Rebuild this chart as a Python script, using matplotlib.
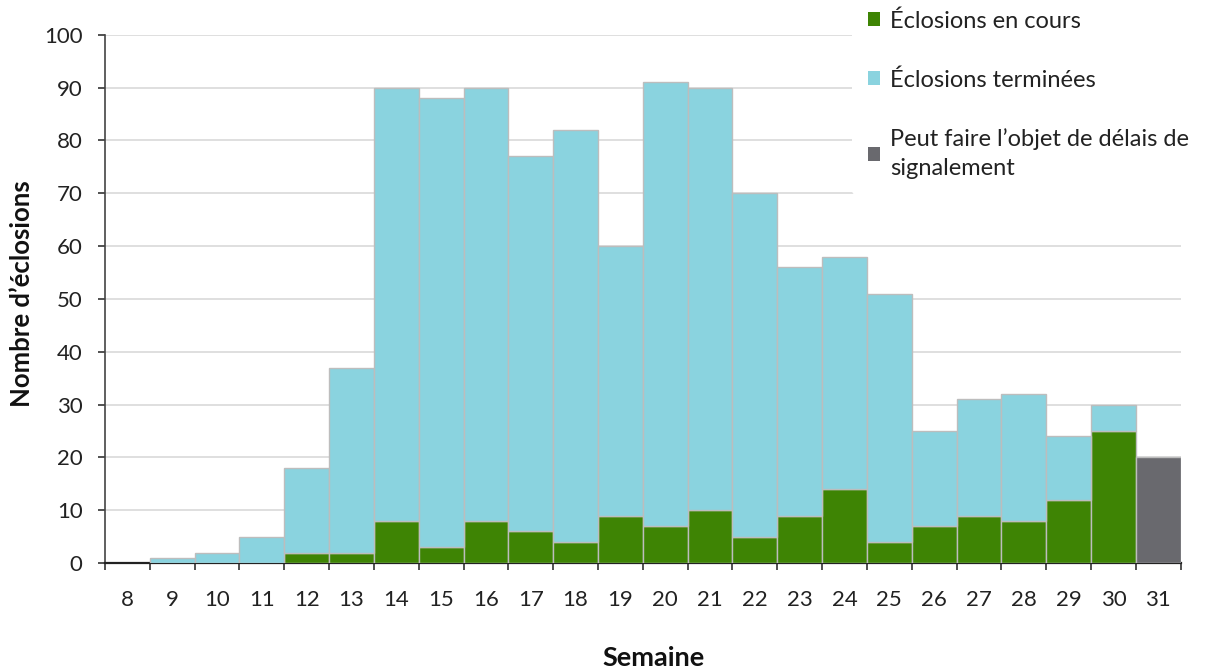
import numpy as np
import matplotlib.pyplot as plt
from matplotlib.patches import Patch

plt.rcParams['font.family'] = ['Lato', 'DejaVu Sans']

# Weekly outbreak counts
weeks = list(range(8, 32))
en_cours = [0, 0, 0, 0, 2, 2, 8, 3, 8, 6, 4, 9, 7, 10, 5, 9, 14, 4, 7, 9, 8, 12, 25, 0]
total = [0, 1, 2, 5, 18, 37, 90, 88, 90, 77, 82, 60, 91, 90, 70, 56, 58, 51, 25, 31, 32, 24, 30, 0]
delais = [0] * 23 + [20]
terminees = [t - c for t, c in zip(total, en_cours)]

green = '#3E8404'
blue = '#8AD3DF'
grey = '#69696E'
edge = '#BDBDBD'

fig, ax = plt.subplots(figsize=(12.06, 6.68), dpi=100)
fig.subplots_adjust(left=0.087, right=0.979, bottom=0.157, top=0.948)

x = np.array(weeks)
c = np.array(en_cours)
t = np.array(terminees)
d = np.array(delais)

# only draw non-empty segments so week 8 stays blank
m = c > 0
ax.bar(x[m], c[m], width=1.0, color=green, edgecolor=edge, linewidth=1, zorder=3)
m = t > 0
ax.bar(x[m], t[m], bottom=c[m], width=1.0, color=blue, edgecolor=edge, linewidth=1, zorder=3)
m = d > 0
ax.bar(x[m], d[m], width=1.0, color=grey, edgecolor=edge, linewidth=1, zorder=3)

ax.set_xlim(7.5, 31.5)
ax.set_ylim(0, 100)
ax.set_yticks(range(0, 101, 10))
ax.yaxis.grid(True, color='#D9D9D9', linewidth=1.2, zorder=0)
ax.set_axisbelow(True)

ax.set_xticks(np.arange(7.5, 32, 1))
ax.set_xticklabels([])
ax.set_xticks(x, minor=True)
ax.set_xticklabels([str(w) for w in weeks], minor=True)
ax.tick_params(axis='x', which='major', length=5, width=1.2, direction='out', color='#333333')
ax.tick_params(axis='x', which='minor', length=0, pad=19, labelsize=16, labelcolor='#222222')
ax.tick_params(axis='y', length=5, width=1.2, color='#333333', pad=11, labelsize=16, labelcolor='#222222')

for s in ['top', 'right']:
    ax.spines[s].set_visible(False)
ax.spines['left'].set_color('#444444')
ax.spines['left'].set_linewidth(1.2)
ax.spines['bottom'].set_color('#222222')
ax.spines['bottom'].set_linewidth(1.6)

fig.text(22 / 1206, 1 - 294 / 668, "Nombre d’éclosions", rotation=90, fontsize=18.5,
         fontweight='bold', ha='center', va='center', color='#111111')
fig.text(654 / 1206, 1 - 658 / 668, 'Semaine', fontsize=19.5, fontweight='bold',
         ha='center', va='center', color='#111111')

handles = [
    Patch(facecolor=green, edgecolor='none'),
    Patch(facecolor=blue, edgecolor='none'),
    Patch(facecolor=grey, edgecolor='none'),
]
labels = ['Éclosions en cours', 'Éclosions terminées', 'Peut faire l’objet de délais de\nsignalement']
leg = fig.legend(handles, labels, loc='upper left', bbox_to_anchor=(852 / 1206, 1.008),
                 frameon=True, fontsize=17, handlelength=0.52, handleheight=0.52,
                 handletextpad=0.42, labelspacing=1.58, borderpad=0.66, borderaxespad=0)
leg.get_frame().set_edgecolor('none')
leg.get_frame().set_facecolor('white')
leg.get_frame().set_alpha(1)
leg.set_zorder(10)
for txt in leg.get_texts():
    txt.set_color('#222222')
leg.get_texts()[2].set_linespacing(1.5)

fig.savefig('out.png', dpi=100)
